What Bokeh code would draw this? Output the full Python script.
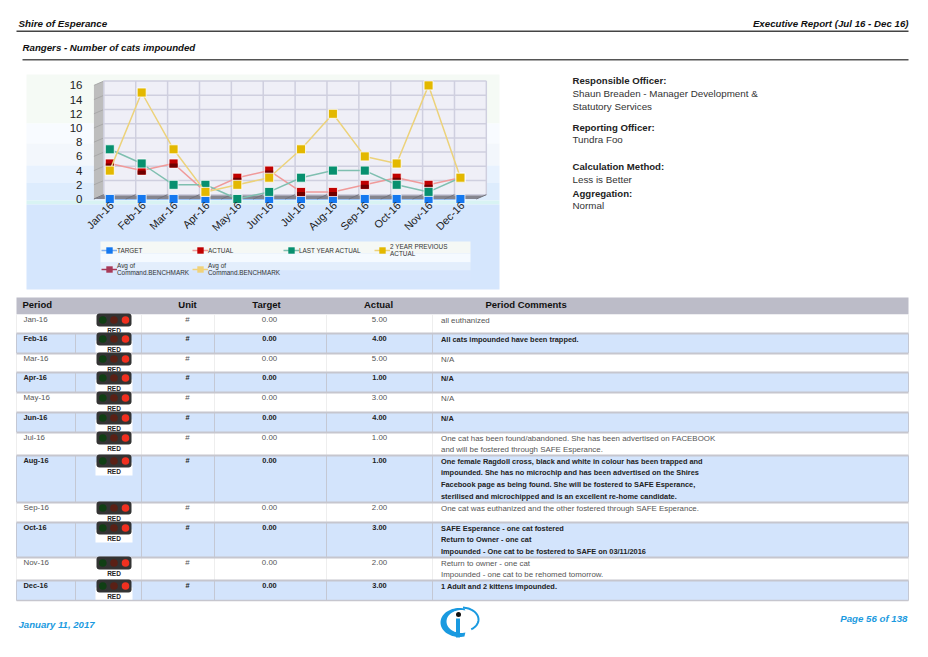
from math import pi
import numpy as np
from bokeh.embed import file_html
from bokeh.resources import INLINE
from bokeh.plotting import figure
from bokeh.layouts import column
from bokeh.models import ColumnDataSource, FixedTicker, Legend, LegendItem, Range1d
from bokeh.core.properties import value

months = ["Jan-16", "Feb-16", "Mar-16", "Apr-16", "May-16", "Jun-16", "Jul-16", "Aug-16", "Sep-16", "Oct-16", "Nov-16", "Dec-16"]
target = [0, 0, 0, 0, 0, 0, 0, 0, 0, 0, 0, 0]
actual = [5, 4, 5, 1, 3, 4, 1, 1, 2, 3, 2, 3]
last_year = [7, 5, 2, 2, 0, 1, 3, 4, 4, 2, 1, 3]
two_year = [4, 15, 7, 1, 2, 3, 7, 12, 6, 5, 16, 3]
y_ticks = [0, 2, 4, 6, 8, 10, 12, 14, 16]
unit = "#"
status = "RED"
comments = [
    ["all euthanized"],
    ["All cats impounded have been trapped."],
    ["N/A"], ["N/A"], ["N/A"], ["N/A"],
    ["One cat has been found/abandoned. She has been advertised on FACEBOOK", "and will be fostered through SAFE Esperance."],
    ["One female Ragdoll cross, black and white in colour has been trapped and",
     "impounded. She has no microchip and has been advertised on the Shires",
     "Facebook page as being found. She will be fostered to SAFE Esperance,",
     "sterilised and microchipped and is an excellent re-home candidate."],
    ["One cat was euthanized and the other fostered through SAFE Esperance."],
    ["SAFE Esperance - one cat fostered", "Return to Owner - one cat", "Impounded - One cat to be fostered to SAFE on 03/11/2016"],
    ["Return to owner - one cat", "Impounded - one cat to be rehomed tomorrow."],
    ["1 Adult and 2 kittens impounded."],
]

FONT = "Liberation Sans"
# layout, in page pixels
row_tops = [314, 333, 353, 372, 392, 412, 432, 455, 502, 522, 557, 580, 600]
F_L, F_R, F_T, F_B = 93, 487, 79, 204
PANEL_L, PANEL_R, PANEL_T, PANEL_B = 26, 499, 74, 289
LEG_L, LEG_R, LEG_T, LEG_B = 100, 470, 241, 280
PAGE_BOTTOM = 649
PX_X = 31.875
PX_Y = 7.1
Y0 = 198.5
X0 = 109.3
DX, DY = 10 / PX_X, 4.3 / PX_Y
LABEL_SHIFT = 0.06

# page figure: everything that is not the chart, drawn in page pixels
t = figure(width=912, height=PAGE_BOTTOM - 8, output_backend="svg", toolbar_location=None, frame_align=False,
           margin=(8, 0, 0, 8), x_range=Range1d(8, 920), y_range=Range1d(PAGE_BOTTOM, 8), min_border=0,
           x_axis_type=None, y_axis_type=None)
t.grid.visible = False
t.outline_line_color = None
t.border_fill_color = "white"
t.background_fill_color = "white"


def txt(xs, ys, texts, size, color, style="normal", align="left"):
    t.text(xs, ys, text=texts, text_font=value(FONT), text_font_size=f"{size}px", text_color=color,
           text_font_style=style, text_align=align, text_baseline="middle")


def box(l, r, top, b, color, radius=0):
    t.quad(left=l, right=r, top=top, bottom=b, fill_color=color, line_color=None, border_radius=radius)


for top, b, c in [(74, 123, "#f5faf5"), (123, 143, "#f8fbff"), (143, 165, "#f3f7fc"), (165, 182, "#e8f2fe"),
                  (182, 200, "#ddecfd"), (200, 204, "#d8f3f3"), (204, 289, "#d5e6fd")]:
    box(PANEL_L, PANEL_R, top, b, c)
for top, b, c in [(241, 253, "#f5f8f5"), (253, 262, "#f5faff"), (262, 270, "#e3eefc"), (270, 280, "#d7e6fd")]:
    box(LEG_L, LEG_R, top, b, c)

box(16, 908, 30, 31.5, "#444444")
box(22, 908, 58.5, 60, "#555555")
txt([18], [22.5], ["Shire of Esperance"], 9.8, "#111111", "bold italic")
txt([908], [22.5], ["Executive Report (Jul 16 - Dec 16)"], 9.7, "#111111", "bold italic", "right")
txt([22], [47], ["Rangers - Number of cats impounded"], 9.7, "#111111", "bold italic")

for y, s, bold in [(79.5, "Responsible Officer:", True), (93, "Shaun Breaden - Manager Development &", False),
                   (106, "Statutory Services", False), (126.5, "Reporting Officer:", True), (139, "Tundra Foo", False),
                   (166, "Calculation Method:", True), (178.5, "Less is Better", False),
                   (192.5, "Aggregation:", True), (205, "Normal", False)]:
    txt([572], [y], [s], 9.6 if bold else 9.8, "#222222" if bold else "#333333", "bold" if bold else "normal")

box(16, 908, 297, 314, "#bcbcc8")
txt([22], [304], ["Period"], 9.5, "#111111", "bold")
txt([187], [304], ["Unit"], 9.5, "#111111", "bold", "center")
txt([266], [304], ["Target"], 9.5, "#111111", "bold", "center")
txt([378], [304], ["Actual"], 9.5, "#111111", "bold", "center")
txt([485], [304], ["Period Comments"], 9.5, "#111111", "bold")

col_lines = [75, 141, 214, 326, 432]
for i, m in enumerate(months):
    top, bot = row_tops[i], row_tops[i + 1]
    blue = i % 2 == 1
    box(16, 908, top, bot, "#d3e4fc" if blue else "white")
    for x in col_lines + [16, 908]:
        if blue or x != 75:
            t.line([x, x], [top, bot], line_color="#c4c8d4" if blue else "#eeeeee", line_width=1)
    if i:
        t.line([16, 908], [top, top], line_color="#c6c6ce", line_width=2)
    col = "#222222" if blue else "#555555"
    sty = "bold" if blue else "normal"
    size = 7.4 if blue else 7.9
    ty = top + 4.5
    box(95, 132, top + 7, top + 20, "white")
    box(96, 131, top - 1, top + 12, "#333333", 3)
    t.circle([102.3, 113.5, 125], [top + 5.5] * 3, radius=3.8, fill_color=["#103f14", "#5a2015", "#f03020"], line_color=None)
    txt([113.5], [top + 15.5], [status], 6.5, "#222222", "bold", "center")
    txt([23], [ty], [m], size, col, sty)
    txt([187], [ty], [unit], size, col, sty, "center")
    txt([269], [ty], [f"{target[i]:.2f}"], size, col, sty, "center")
    txt([379], [ty], [f"{actual[i]:.2f}"], size, col, sty, "center")
    for j, line in enumerate(comments[i]):
        txt([440.5], [top + 5.5 + j * 11.8], [line], size, col, sty)
t.line([16, 908], [600, 600], line_color="#c6c6ce", line_width=1.5)

txt([18], [624], ["January 11, 2017"], 9.6, "#1a9ae0", "bold italic")
txt([907], [618], ["Page 56 of 138"], 9.7, "#1a9ae0", "bold italic", "right")

a = np.linspace(np.radians(75), np.radians(285), 40)
outer_x, outer_y = 459 + 19 * np.cos(a), 622 - 14.5 * np.sin(a)
inner_x, inner_y = 461 + 15 * np.cos(a), 621 - 11.5 * np.sin(a)
t.patch(list(outer_x) + list(inner_x[::-1]), list(outer_y) + list(inner_y[::-1]), fill_color="#1a9ae0", line_color=None)
b = np.linspace(np.radians(-55), np.radians(85), 30)
t.line(list(461 + 17 * np.cos(b)), list(619 - 12 * np.sin(b)), line_color="#1a9ae0", line_width=2)
box(455.5, 459.5, 618, 637, "#1a9ae0")
t.circle([458], [614], radius=2.5, fill_color="#111111", line_color=None)

# chart figure, laid transparently over the page figure
p = figure(width=PANEL_R - PANEL_L, height=PANEL_B - PANEL_T, frame_width=F_R - F_L, frame_height=F_B - F_T,
           output_backend="svg", toolbar_location=None, frame_align=False,
           margin=(PANEL_T - PAGE_BOTTOM, 0, 0, PANEL_L),
           x_range=Range1d((F_L - X0) / PX_X, (F_R - X0) / PX_X),
           y_range=Range1d((Y0 - F_B) / PX_Y, (Y0 - F_T) / PX_Y),
           min_border_left=F_L - PANEL_L, min_border_right=PANEL_R - F_R,
           min_border_top=F_T - PANEL_T, min_border_bottom=PANEL_B - F_B)
p.background_fill_color = None
p.border_fill_color = None
p.outline_line_color = None
p.grid.visible = False

n = len(months)
xs = list(range(n))
xl, xr = -0.5, n - 0.5
ymax = y_ticks[-1]
p.line(xs, target, line_color="#7fb0f0", line_width=1.5)
p.patch([xl, xl + DX, xl + DX, xl], [0, DY, ymax + DY, ymax], fill_color="#bdbdbd", line_color=None)
p.patch([xl + DX, xr + DX, xr + DX, xl + DX], [DY, DY, ymax + DY, ymax + DY], fill_color="#efeff7", line_color=None)
p.patch([xl, xl + DX, xr + DX, xr], [0, DY, DY, 0], fill_color="#85858f", line_color=None)
for v in y_ticks:
    p.line([xl + DX, xr + DX], [v + DY, v + DY], line_color="#cfcfdf", line_width=1.5)
    p.line([xl, xl + DX], [v, v + DY], line_color="#a8a8a8", line_width=1)
for i in range(n + 1):
    x = i - 0.5
    p.line([x + DX, x + DX], [DY, ymax + DY], line_color="#cfcfdf", line_width=1.5)
    p.line([x, x + DX], [0, DY], line_color="#74747e", line_width=1)

series = [("TARGET", target, "#7fb0f0", "#1478f0", None),
          ("ACTUAL", actual, "#f09a9a", "#c00000", "#700000"),
          ("LAST YEAR ACTUAL", last_year, "#7fbfb0", "#07906f", None),
          ("2 YEAR PREVIOUS\nACTUAL", two_year, "#ecd27a", "#e3b800", None)]
for label, vals, lc, mc, shade in series:
    src = ColumnDataSource(dict(x=xs, y=vals))
    if label != "TARGET":
        p.line("x", "y", source=src, line_color=lc, line_width=1.5)
    p.scatter("x", "y", source=src, marker="square", size=9, fill_color=mc, line_color="white",
              line_alpha=0.8, line_width=1)
    if shade:
        p.rect(xs, [v - 0.28 for v in vals], width=8, height=4, width_units="screen", height_units="screen",
               fill_color=shade, line_color=None)

ticks = [i + LABEL_SHIFT for i in xs]
p.xaxis.ticker = FixedTicker(ticks=ticks)
p.xaxis.major_label_overrides = {tk: m for tk, m in zip(ticks, months)}
p.xaxis.major_label_orientation = pi / 4
p.xaxis.major_label_text_font = FONT
p.xaxis.major_label_text_font_size = "10.8px"
p.xaxis.major_label_text_color = "#222222"
p.xaxis.major_label_standoff = -7
p.yaxis.ticker = FixedTicker(ticks=y_ticks)
p.yaxis.major_label_text_font = FONT
p.yaxis.major_label_text_font_size = "11.5px"
p.yaxis.major_label_text_color = "#222222"
p.yaxis.major_label_standoff = 5
for ax in (p.xaxis, p.yaxis):
    ax.axis_line_color = None
    ax.major_tick_line_color = None
    ax.minor_tick_line_color = None

# legend strip, laid over the chart figure; its key glyphs sit outside the strip's ranges
g = figure(width=LEG_R - LEG_L, height=LEG_B - LEG_T, output_backend="svg", toolbar_location=None, frame_align=False,
           margin=(LEG_T - PANEL_B, 0, 0, LEG_L + 1), min_border=0, x_axis_type=None, y_axis_type=None,
           x_range=Range1d(100, 101), y_range=Range1d(100, 101))
g.background_fill_color = None
g.border_fill_color = None
g.outline_line_color = None
g.grid.visible = False
items = []
for label, lc, mc in [(s[0], s[2], s[3]) for s in series] + [("Avg of\nCommand.BENCHMARK", "#a83a58", "#a83a58"),
                                                             ("Avg of\nCommand.BENCHMARK ", "#f0d27a", "#f0d27a")]:
    src = ColumnDataSource(dict(x=[0, 1], y=[0, 1]))
    r1 = g.line("x", "y", source=src, line_color=lc, line_width=1.5)
    r2 = g.scatter("x", "y", source=src, marker="square", size=8, fill_color=mc, line_color=None)
    items.append(LegendItem(label=label, renderers=[r1, r2]))
g.add_layout(Legend(items=items, ncols=4, orientation="horizontal", location="top_left", background_fill_alpha=0,
                    border_line_color=None, label_text_font=FONT, label_text_font_size="6.4px",
                    label_text_color="#333333", glyph_width=16, glyph_height=16, label_standoff=-1, label_width=74,
                    label_height=18, spacing=1, padding=3, margin=0, label_text_line_height=1.25))

page = column(t, p, g, spacing=0)
open("out.html", "w").write(file_html(page, INLINE))
